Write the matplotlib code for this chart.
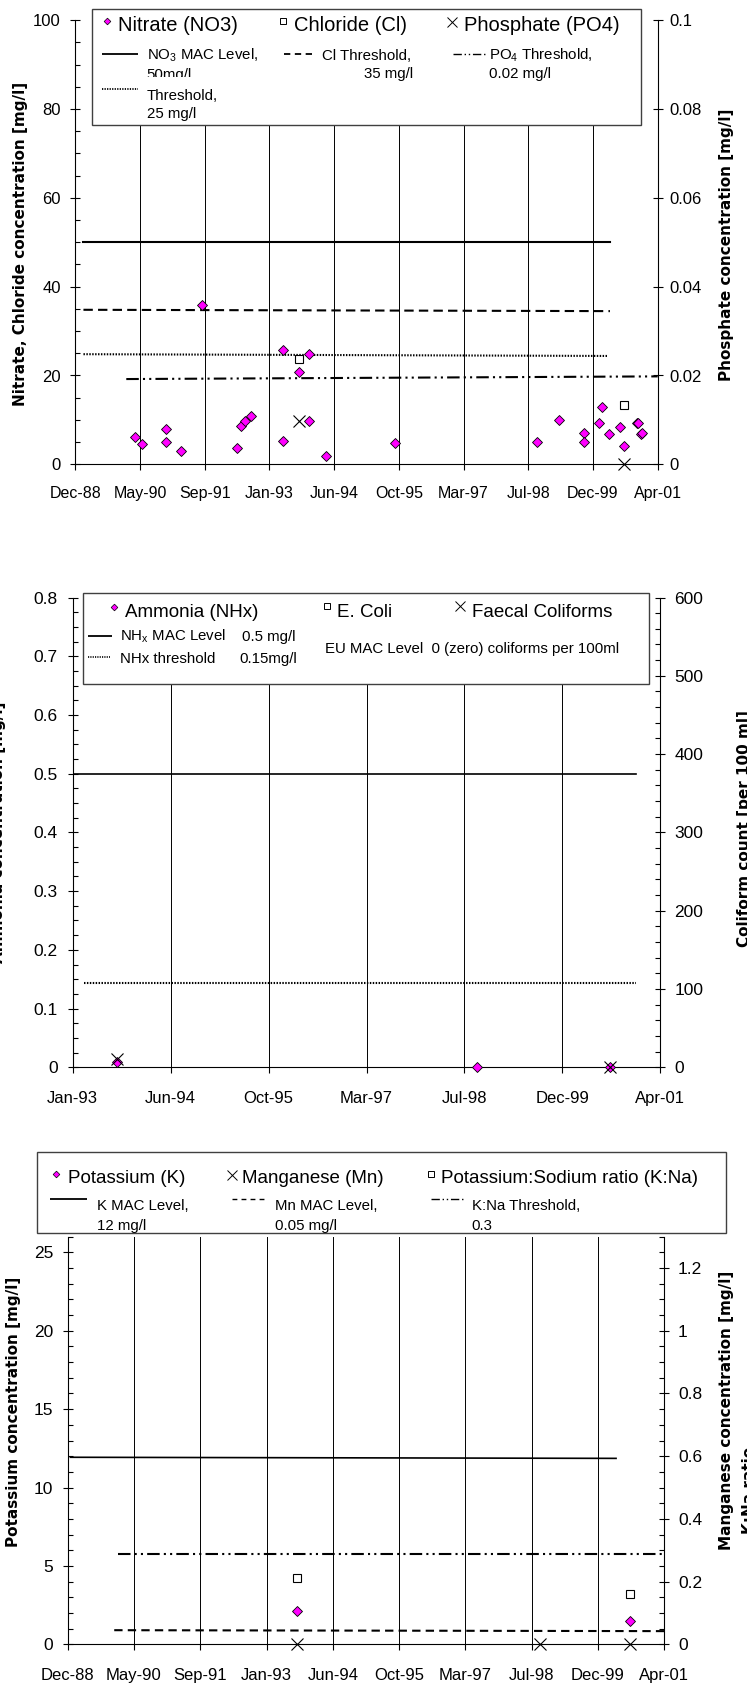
import matplotlib
matplotlib.use('Agg')
import matplotlib.pyplot as plt
import matplotlib.dates as mdates
from matplotlib.ticker import MultipleLocator, FuncFormatter, NullLocator
from matplotlib.patches import Rectangle
from matplotlib.transforms import Bbox
import pandas as pd

W, H = 747, 1697

plt.rcParams['font.family'] = ['Liberation Sans', 'DejaVu Sans']
plt.rcParams['mathtext.fontset'] = 'custom'
plt.rcParams['mathtext.rm'] = 'Liberation Sans'
plt.rcParams['mathtext.it'] = 'Liberation Sans:italic'
plt.rcParams['mathtext.bf'] = 'Liberation Sans:bold'

MAGENTA = '#FF00FF'

# ---------- chart 1: nitrate / chloride / phosphate ----------
nitrate_dates = ['1990-03-28', '1990-05-26', '1990-11-23', '1990-11-23', '1991-03-17',
                 '1991-08-26', '1992-05-24', '1992-06-23', '1992-07-29', '1992-09-08',
                 '1993-05-16', '1993-05-16', '1993-09-15', '1993-12-01', '1993-12-01',
                 '1994-04-16', '1995-09-29', '1998-09-26', '1999-03-18', '1999-09-26',
                 '1999-09-26', '2000-01-25', '2000-02-13', '2000-04-08', '2000-07-05',
                 '2000-08-04', '2000-11-11', '2000-11-14', '2000-12-14', '2000-12-17']
nitrate = [6.2, 4.5, 7.95, 5.0, 3.1, 35.9, 3.6, 8.7, 9.75, 10.95,
           25.7, 5.3, 20.85, 24.8, 9.75, 1.8, 4.8, 5.0, 10.0, 7.05,
           5.0, 9.2, 12.8, 6.8, 8.3, 4.1, 9.2, 9.4, 6.8, 7.0]
chloride_dates = ['1993-09-15', '2000-08-04']
chloride = [23.8, 13.35]
phosphate_dates = ['1993-09-15', '2000-08-04']
phosphate = [0.0098, 0.0]

no3_mac_dates = ['1989-02-24', '2000-04-15']
no3_mac = [50, 50]
cl_thr_dates = ['1989-02-24', '2000-04-15']
cl_thr = [34.8, 34.5]
no3_thr_dates = ['1989-02-24', '2000-03-28']
no3_thr = [24.8, 24.4]
po4_thr_dates = ['1990-01-21', '2001-04-19']
po4_thr = [0.0192, 0.0198]

# ---------- chart 2: ammonia / coliforms ----------
ammonia_dates = ['1993-09-14', '1998-09-28', '2000-08-06']
ammonia = [0.009, 0.0, 0.0]
faecal_dates = ['1993-09-14', '2000-08-06']
faecal = [10, 1]
nhx_mac_dates = ['1993-01-31', '2000-12-18']
nhx_mac = [0.5, 0.5]
nhx_thr_dates = ['1993-03-28', '2000-12-18']
nhx_thr = [0.143, 0.143]

# ---------- chart 3: potassium / manganese / K:Na ----------
potassium_dates = ['1993-09-15', '2000-08-06']
potassium = [2.11, 1.49]
kna_dates = ['1993-09-15', '2000-08-06']
kna = [0.219, 0.166]
manganese_dates = ['1993-09-15', '1998-09-26', '2000-08-06']
manganese = [0.0, 0.0, 0.0]
k_mac_dates = ['1989-01-13', '2000-04-20']
k_mac = [11.93, 11.86]
mn_mac_dates = ['1989-12-09', '2001-04-19']
mn_mac = [0.045, 0.042]
kna_thr_dates = ['1990-01-07', '2001-04-19']
kna_thr = [0.3, 0.3]

ticks_long = ['Dec-88', 'May-90', 'Sep-91', 'Jan-93', 'Jun-94', 'Oct-95',
              'Mar-97', 'Jul-98', 'Dec-99', 'Apr-01']
ticks_short = ['Jan-93', 'Jun-94', 'Oct-95', 'Mar-97', 'Jul-98', 'Dec-99', 'Apr-01']

DASHDOTDOT = (6, 2, 1, 2, 1, 2)
DOTS = (0.7, 0.7)


def d(seq):
    return mdates.date2num(pd.to_datetime(seq))


fmt = FuncFormatter(lambda v, p: '{:g}'.format(round(v, 6)))

fig = plt.figure(figsize=(W / 100, H / 100), dpi=100)


def make_axes(box, start, labels, xsize, ysize, xpad, lpad, rpad):
    left, top, right, bottom = box
    ax = fig.add_axes([left / W, 1 - bottom / H, (right - left) / W, (bottom - top) / H])
    ticks = d(pd.date_range(start, periods=len(labels), freq='500D'))
    ax.set_xlim(ticks[0], ticks[-1])
    ax.set_xticks(ticks, labels)
    ax.grid(axis='x', color='black', lw=0.7)
    ax.set_axisbelow(True)
    ax.spines['top'].set_visible(False)
    ax.spines['right'].set_visible(False)
    for s in ['left', 'bottom']:
        ax.spines[s].set_linewidth(0.8)
    ax.tick_params(axis='x', direction='out', length=4, width=0.8, labelsize=xsize, pad=xpad)
    ax.tick_params(axis='y', which='major', direction='inout', length=7, width=0.8,
                   labelsize=ysize, pad=lpad)
    ax.tick_params(axis='y', which='minor', direction='in', length=3.5, width=0.8)
    ax.yaxis.set_major_formatter(fmt)
    axr = ax.twinx()
    for s in ['top', 'left', 'bottom']:
        axr.spines[s].set_visible(False)
    axr.spines['right'].set_linewidth(0.8)
    axr.tick_params(axis='y', which='major', direction='inout', length=7, width=0.8,
                    labelsize=ysize, pad=rpad)
    axr.tick_params(axis='y', which='minor', direction='in', length=3.5, width=0.8)
    axr.yaxis.set_major_formatter(fmt)
    return ax, axr


def diamonds(ax, x, y):
    ax.plot(d(x), y, ls='none', marker='D', ms=4.6, mfc=MAGENTA, mec='black', mew=0.6,
            zorder=5, clip_on=False)


def squares(ax, x, y):
    ax.plot(d(x), y, ls='none', marker='s', ms=5.8, mfc='white', mec='black', mew=0.8,
            zorder=5, clip_on=False)


def crosses(ax, x, y):
    ax.plot(d(x), y, ls='none', marker='x', ms=9, color='black', mew=0.8, zorder=6,
            clip_on=False)


# ---------------- chart 1 ----------------
ax1, ax1r = make_axes((75.3, 20.3, 657.7, 464.3), '1988-12-23', ticks_long,
                      11.5, 12, 11.5, 6.8, 5.2)
ax1.set_ylim(0, 100)
ax1.yaxis.set_major_locator(MultipleLocator(20))
ax1.yaxis.set_minor_locator(MultipleLocator(5))
ax1r.set_ylim(0, 0.1)
ax1r.yaxis.set_major_locator(MultipleLocator(0.02))
ax1r.yaxis.set_minor_locator(NullLocator())

ax1.plot(d(no3_mac_dates), no3_mac, color='black', lw=1.5)
ax1.plot(d(cl_thr_dates), cl_thr, color='black', lw=1.5, dashes=(4.5, 2.5))
ax1.plot(d(no3_thr_dates), no3_thr, color='black', lw=1.5, dashes=DOTS)
ax1r.plot(d(po4_thr_dates), po4_thr, color='black', lw=1.5, dashes=DASHDOTDOT)
diamonds(ax1, nitrate_dates, nitrate)
squares(ax1, chloride_dates, chloride)
crosses(ax1r, phosphate_dates, phosphate)

# ---------------- chart 2 ----------------
ax2, ax2r = make_axes((72.7, 597.5, 660.3, 1067.3), '1993-01-31', ticks_short,
                      12, 12.5, 12.8, 7.2, 6.8)
ax2.set_ylim(0, 0.8)
ax2.yaxis.set_major_locator(MultipleLocator(0.1))
ax2.yaxis.set_minor_locator(MultipleLocator(0.025))
ax2r.set_ylim(0, 600)
ax2r.yaxis.set_major_locator(MultipleLocator(100))
ax2r.yaxis.set_minor_locator(MultipleLocator(20))

ax2.plot(d(nhx_mac_dates), nhx_mac, color='black', lw=1.2)
ax2.plot(d(nhx_thr_dates), nhx_thr, color='black', lw=1.5, dashes=DOTS)
diamonds(ax2, ammonia_dates, ammonia)
crosses(ax2r, faecal_dates, faecal)

# ---------------- chart 3 ----------------
ax3, ax3r = make_axes((67.7, 1236.7, 664.3, 1644.3), '1988-12-23', ticks_long,
                      12, 12.5, 13, 6.8, 6.4)
ax3.set_ylim(0, 26)
ax3.yaxis.set_major_locator(MultipleLocator(5))
ax3.yaxis.set_minor_locator(MultipleLocator(1))
ax3r.set_ylim(0, 1.3)
ax3r.yaxis.set_major_locator(MultipleLocator(0.2))
ax3r.yaxis.set_minor_locator(MultipleLocator(0.05))
ax3k = ax3.twinx()
ax3k.set_ylim(0, 1.35)
ax3k.axis('off')

ax3.plot(d(k_mac_dates), k_mac, color='black', lw=1.2)
ax3r.plot(d(mn_mac_dates), mn_mac, color='black', lw=1.5, dashes=(4, 2.5))
ax3k.plot(d(kna_thr_dates), kna_thr, color='black', lw=1.5, dashes=DASHDOTDOT)
diamonds(ax3, potassium_dates, potassium)
squares(ax3k, kna_dates, kna)
crosses(ax3r, manganese_dates, manganese)

# ---------------- overlay: legends and axis titles (pixel coords) ----------------
lay = fig.add_axes([0, 0, 1, 1], zorder=10)
lay.set_xlim(0, W)
lay.set_ylim(H, 0)
lay.axis('off')


def box(x0, y0, x1, y1):
    lay.add_patch(Rectangle((x0, y0), x1 - x0, y1 - y0, fc='white', ec='#404040', lw=1.0,
                            zorder=1))


def txt(x, y, s, size, **kw):
    return lay.text(x, y, s, fontsize=size, ha=kw.pop('ha', 'left'), va='baseline',
                    zorder=3, **kw)


def sample(x0, x1, y, **kw):
    lay.plot([x0, x1], [y, y], color='black', zorder=2, solid_capstyle='butt', **kw)


def mk(x, y, kind):
    if kind == 'D':
        lay.plot([x], [y], marker='D', ms=3.4, mfc=MAGENTA, mec='black', mew=0.5, zorder=3)
    elif kind == 's':
        lay.plot([x], [y], marker='s', ms=4.6, mfc='white', mec='black', mew=0.7, zorder=3)
    else:
        lay.plot([x], [y], marker='x', ms=7.5, color='black', mew=0.7, zorder=3)


# legend 1
box(92, 9.3, 641, 125.5)
mk(107, 20.7, 'D'); txt(118, 30.7, 'Nitrate (NO3)', 14.5)
mk(282.5, 20.7, 's'); txt(294, 30.7, 'Chloride (Cl)', 14.5)
mk(451.6, 21.5, 'x'); txt(463.5, 30.7, 'Phosphate (PO4)', 14.5)
sample(102.4, 138, 54.3, lw=1.3)
txt(146.7, 60, r'NO$_\mathrm{3}$ MAC Level,', 10.8)
t = txt(146.7, 79.5, '50mg/l', 10.8)
t.set_clip_box(Bbox.from_extents(100, H - 77, 300, H - 60))
t.set_clip_on(True)
sample(283.5, 314.4, 54.3, lw=1.3, dashes=(3.5, 2.5))
txt(322.5, 60, 'Cl Threshold,', 10.8)
txt(413.5, 78, '35 mg/l', 10.8, ha='right')
sample(452.6, 486, 54.3, lw=1.0, dashes=DASHDOTDOT)
txt(489, 60, r'PO$_\mathrm{4}$ Threshold,', 10.8)
txt(489, 78, '0.02 mg/l', 10.8)
sample(102.4, 138, 89.3, lw=1.3, dashes=DOTS)
txt(146.7, 100, 'Threshold,', 10.8)
txt(146.7, 118, '25 mg/l', 10.8)

# legend 2
box(83.3, 592.7, 649.4, 684)
mk(114, 607.3, 'D'); txt(124.8, 617.3, 'Ammonia (NHx)', 13.5)
mk(326.8, 606, 's'); txt(337, 617.3, 'E. Coli', 13.5)
mk(459.7, 606, 'x'); txt(471.6, 617.3, 'Faecal Coliforms', 13.5)
sample(88, 112, 635.7, lw=1.3)
txt(120, 641, r'NH$_\mathrm{x}$ MAC Level', 10.8)
txt(242, 641, '0.5 mg/l', 10.8)
sample(88, 110, 656.7, lw=1.2, dashes=DOTS)
txt(120, 663.3, 'NHx threshold', 10.8)
txt(239.6, 663.3, '0.15mg/l', 10.8)
txt(325.4, 653, 'EU MAC Level  0 (zero) coliforms per 100ml', 10.8)

# legend 3
box(36.7, 1151.7, 725.7, 1232.7)
mk(56.2, 1174, 'D'); txt(68, 1183.3, 'Potassium (K)', 13.5)
mk(232, 1175, 'x'); txt(242, 1183.3, 'Manganese (Mn)', 13.5)
mk(431, 1174, 's'); txt(440.7, 1183.3, 'Potassium:Sodium ratio (K:Na)', 13.5)
sample(50, 87.3, 1199.3, lw=1.3)
txt(97, 1210, 'K MAC Level,', 10.8)
txt(97, 1230, '12 mg/l', 10.8)
sample(232, 263.5, 1199.3, lw=1.0, dashes=(3.5, 3))
txt(275.4, 1210, 'Mn MAC Level,', 10.8)
txt(275.4, 1230, '0.05 mg/l', 10.8)
sample(431, 464.5, 1199.3, lw=1.0, dashes=DASHDOTDOT)
txt(471.6, 1210, 'K:Na Threshold,', 10.8)
txt(471.6, 1230, '0.3', 10.8)

# axis titles (some run off the page edge, as in the original)
ylab = dict(rotation=90, ha='center', va='center', fontsize=11, fontweight='bold',
            family='DejaVu Sans', zorder=3, clip_on=False)
lay.text(21, 244, 'Nitrate, Chloride concentration [mg/l]', **ylab)
lay.text(727, 245, 'Phosphate concentration [mg/l]', **ylab)
lay.text(-1, 832, 'Ammonia concentration [mg/l]', **ylab)
lay.text(744, 829, 'Coliform count [per 100 ml]', **ylab)
lay.text(14, 1412, 'Potassium concentration [mg/l]', **ylab)
lay.text(727, 1410, 'Manganese concentration [mg/l]', **ylab)
lay.text(749, 1490, 'K:Na ratio', **ylab)

fig.savefig('out.png', dpi=100)
